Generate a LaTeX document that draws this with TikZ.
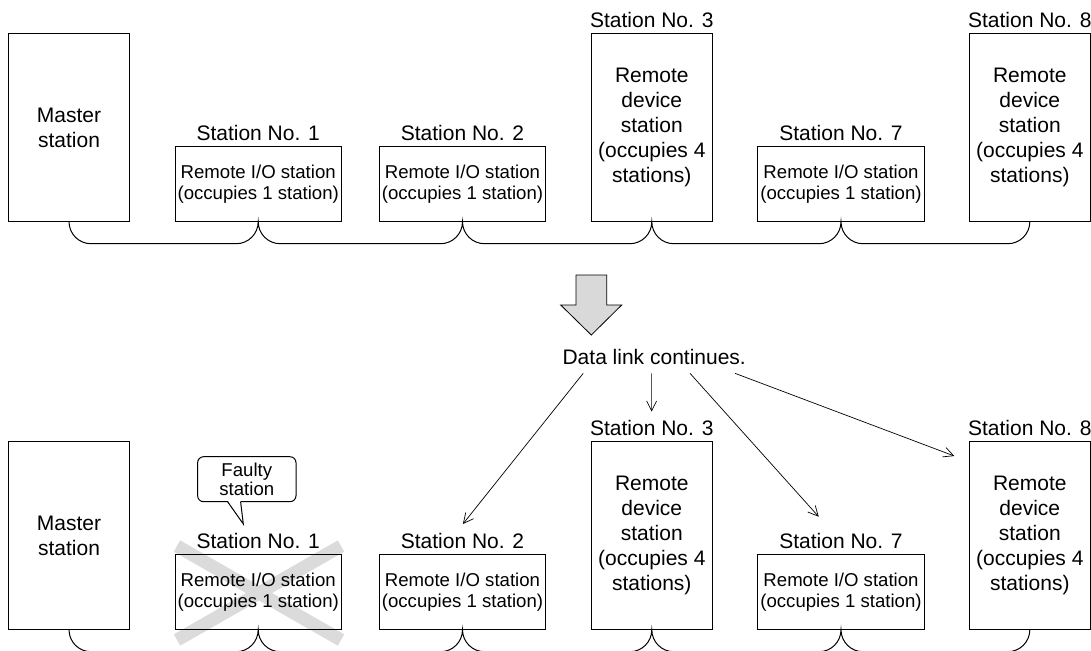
\documentclass[tikz,border=0pt]{standalone}
\usepackage{fontspec}
\setmainfont{Liberation Sans}
\usetikzlibrary{positioning,arrows.meta}

\begin{document}
\begin{tikzpicture}[
    x=0.5pt, y=-0.5pt,
    line width=0.5pt,
    every node/.style={inner sep=0pt, outer sep=0pt, align=center},
    tallbox/.style={draw, minimum width=60.6pt, minimum height=94.2pt, font=\fontsize{10.5pt}{12.6pt}\selectfont},
    iobox/.style={draw, minimum width=83.2pt, minimum height=37.5pt, font=\fontsize{9.3pt}{10.8pt}\selectfont},
    stlabel/.style={above=3pt of #1, font=\fontsize{10.5pt}{12.6pt}\selectfont},
    link/.style={line width=0.35pt, -{Straight Barb[length=5pt,width=5pt]}},
    callout/.style={draw, rounded corners=3pt, minimum width=49.2pt, minimum height=22.5pt, font=\fontsize{9.3pt}{9.4pt}\selectfont}
  ]

\useasboundingbox (0,0) rectangle (1091,650);
\clip (0,0) rectangle (1091,650);

% Faulty station is crossed out
\draw[black!14, line width=6.5pt] (177,546) -- (341,640) (341,546) -- (177,640);

% Two rows of stations with their cables
\foreach \r/\dy in {t/0, b/408} {
  \node[tallbox] (m\r) at (69,{127.5+\dy}) {Master\\station};
  \node[iobox] (s1\r) at (258.2,{184.2+\dy}) {Remote I/O station\\(occupies 1 station)};
  \node[iobox] (s2\r) at (462.5,{184.2+\dy}) {Remote I/O station\\(occupies 1 station)};
  \node[tallbox] (s3\r) at (651.8,{127.5+\dy}) {Remote\\device\\station\\(occupies 4\\stations)};
  \node[iobox] (s7\r) at (841,{184.2+\dy}) {Remote I/O station\\(occupies 1 station)};
  \node[tallbox] (s8\r) at (1029.8,{127.5+\dy}) {Remote\\device\\station\\(occupies 4\\stations)};

  \node[stlabel=s1\r] (l1\r) {Station No. 1};
  \node[stlabel=s2\r] (l2\r) {Station No. 2};
  \node[stlabel=s3\r] (l3\r) {Station No. 3};
  \node[stlabel=s7\r] (l7\r) {Station No. 7};
  \node[stlabel=s8\r] (l8\r) {Station No. 8};

  \draw (m\r.south) arc[start angle=180, end angle=270, radius=11pt]
    foreach \nm in {s1\r,s2\r,s3\r,s7\r} {
      -- ([shift={(-11pt,-11pt)}]\nm.south)
      arc[start angle=270, end angle=360, radius=11pt]
      arc[start angle=180, end angle=270, radius=11pt]
    }
    -- ([shift={(-11pt,-11pt)}]s8\r.south)
    arc[start angle=270, end angle=360, radius=11pt];
}

% Big arrow and note
\draw[fill=black!15, line width=0.4pt] (576,275) -- (606.7,275) -- (606.7,305) -- (621.7,305)
  -- (591.3,335) -- (560.7,305) -- (576,305) -- cycle;
\node[font=\fontsize{10.5pt}{12.6pt}\selectfont] (dl) at (654.2,357) {Data link continues.};

\coordinate (t2) at (462.9,524);
\coordinate (t3) at (651.6,411.7);
\coordinate (t7) at (818.7,516.7);
\coordinate (t8) at (954.3,456);
\draw[link] ([xshift=-35.5pt,yshift=-4.3pt]dl.south) -- (t2);
\draw[link] ([xshift=-1.3pt,yshift=-4.3pt]dl.south) -- (t3);
\draw[link] ([xshift=17.9pt,yshift=-4.3pt]dl.south) -- (t7);
\draw[link] ([xshift=40.4pt,yshift=-4.3pt]dl.south) -- (t8);

% Callout
\node[callout] (faulty) at (246.8,479.2) {Faulty\\station};
\coordinate (ftip) at (243.3,524);
\fill[white] ([xshift=-9.6pt,yshift=0.6pt]faulty.south) -- (ftip) -- ([xshift=-3.1pt,yshift=0.6pt]faulty.south) -- cycle;
\draw ([xshift=-9.6pt]faulty.south) -- (ftip) -- ([xshift=-3.1pt]faulty.south);

\end{tikzpicture}
\end{document}
